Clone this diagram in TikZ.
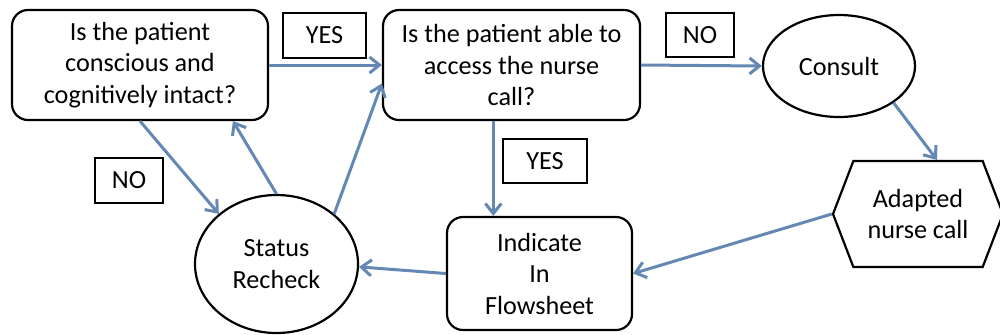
\documentclass[tikz,border=0pt]{standalone}
\usepackage{fontspec}
\setmainfont{Carlito}
\usetikzlibrary{shapes.geometric,shapes.symbols,arrows.meta,calc}
\definecolor{arrowblue}{RGB}{100,135,180}
\begin{document}
\begin{tikzpicture}[x=0.5pt,y=-0.5pt,
  every node/.style={font=\fontsize{13.1}{15.75}\selectfont, align=center, inner sep=0pt},
  qbox/.style={draw, line width=1.1pt, rounded corners=8pt},
  lbl/.style={draw, line width=1.3pt},
  oval/.style={draw, ellipse, line width=1.1pt},
  conn/.style={draw=arrowblue, line width=1.5pt, -{Straight Barb[length=5pt,width=8pt]}}
]
\useasboundingbox (0,0) rectangle (1000,334);
\node[qbox, minimum width=128pt, minimum height=55pt] (b1) at (140,65) {Is the patient\\conscious and\\cognitively intact?};
\node[qbox, minimum width=128.5pt, minimum height=55pt] (b2) at (511.5,65) {Is the patient able to\\access the nurse\\call?};
\node[qbox, minimum width=92.5pt, minimum height=56.5pt] (ind) at (539.5,273.5) {Indicate\\In\\Flowsheet};
\node[oval, minimum width=81.5pt, minimum height=69pt] (st) at (276.5,264) {Status\\Recheck};
\node[oval, minimum width=76pt, minimum height=51pt] (con) at (839,66) {Consult};
\node[draw, line width=1.1pt, signal, signal to=west and east, signal pointer angle=138, minimum width=85pt, minimum height=53pt] (hex) at (918,214) {Adapted\\nurse call};
\node[lbl, minimum width=41.5pt, minimum height=22.5pt] (yes1) at (324.5,35.5) {YES};
\node[lbl, minimum width=34pt, minimum height=22pt] (no1) at (700,35) {NO};
\node[lbl, minimum width=34pt, minimum height=22.5pt] (no2) at (129,180.5) {NO};
\node[lbl, minimum width=42pt, minimum height=22pt] (yes2) at (545,161) {YES};

\draw[conn] (b1.east) -- (b2.west);
\draw[conn] (b2.east) -- (con.west);
\draw[conn] (con.-34) -- ($(hex.north)+(19,0)$);
\draw[conn] (hex.west) -- (ind.east);
\coordinate (b2d) at ($(b2.south west)!0.43!(b2.south east)$);
\draw[conn] (b2d) -- (b2d |- ind.north);
\draw[conn] (ind.west) -- (st.-2);
\draw[conn] (b1.south) -- (st.139);
\draw[conn] (st.north) -- ($(b1.south west)!0.86!(b1.south east)$);
\draw[conn] (st.41) -- ($(b2.west)!0.33!(b2.south west)$);
\end{tikzpicture}
\end{document}
